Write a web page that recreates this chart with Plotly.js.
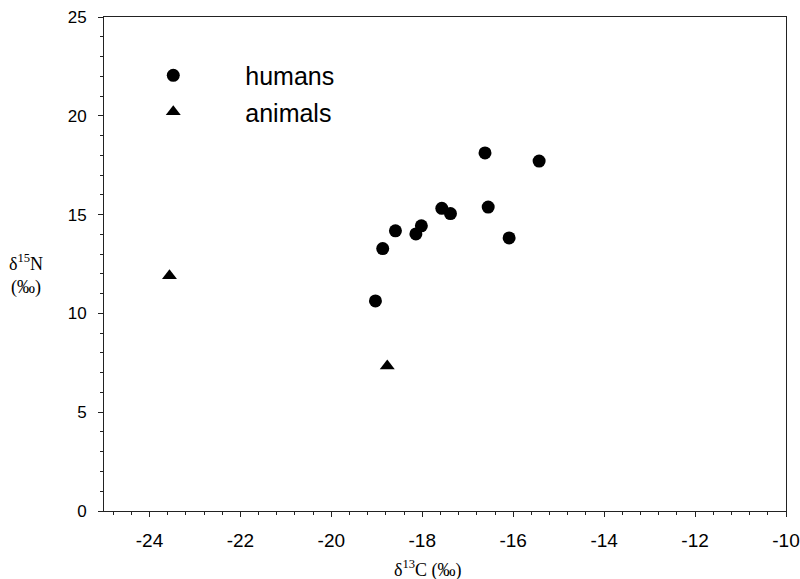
<!DOCTYPE html>
<html>
<head>
<meta charset="utf-8">
<script src="https://cdn.plot.ly/plotly-3.0.1.min.js"></script>
<style>html,body{margin:0;padding:0;background:#fff;}#chart{width:800px;height:579px;}</style>
</head>
<body>
<div id="chart"></div>
<script>
// Data
const humansC = [-19.03, -18.87, -18.59, -18.14, -18.02, -17.57, -17.38, -16.62, -16.55, -16.09, -15.43];
const humansN = [10.63, 13.28, 14.18, 14.02, 14.43, 15.32, 15.05, 18.12, 15.38, 13.82, 17.71];
const animalsC = [-23.56, -18.77];
const animalsN = [11.9, 7.34];
const xTickVals = [-24, -22, -20, -18, -16, -14, -12, -10];
const yTickVals = [0, 5, 10, 15, 20, 25];
const seriesNames = ['humans', 'animals'];
const xTitle = 'δ<sup>13</sup>C (‰)';
const yTitle = 'δ<sup>15</sup>N<br>(‰)';

const traces = [
  {x: humansC, y: humansN, name: seriesNames[0], legendgroup: 'g1', type: 'scatter', mode: 'markers',
   marker: {symbol: 'circle', size: 13, color: '#000'}},
  {x: animalsC, y: animalsN, name: seriesNames[1], legendgroup: 'g2', type: 'scatter', mode: 'markers',
   marker: {symbol: 'triangle-up', size: 13, color: '#000'}}
];

const axisCommon = {
  showgrid: false, zeroline: false, showline: true, linecolor: '#222', linewidth: 1,
  mirror: true, ticks: 'outside', tickcolor: '#222', ticklen: 5, tickwidth: 1,
  tickfont: {family: '"Liberation Sans Narrow", "Liberation Sans", Arial, sans-serif', size: 19, color: '#000'}
};

const layout = {
  width: 800, height: 579,
  margin: {l: 103.5, r: 14, t: 17, b: 68},
  paper_bgcolor: '#fff', plot_bgcolor: '#fff',
  showlegend: true,
  legend: {x: -0.004, xanchor: 'left', y: 0.928, yanchor: 'top', bgcolor: 'rgba(0,0,0,0)',
           traceorder: 'grouped', tracegroupgap: 1,
           itemwidth: 134, font: {family: '"Liberation Sans", Arial, sans-serif', size: 25, color: '#000'}},
  xaxis: Object.assign({}, axisCommon, {
    range: [-25, -10], tickmode: 'array', tickvals: xTickVals, ticktext: xTickVals.map(String),
    ticklabelstandoff: 7,
    minor: {dtick: 0.4, tick0: -24, ticks: 'outside', ticklen: 3, tickcolor: '#222'}
  }),
  yaxis: Object.assign({}, axisCommon, {
    range: [0, 25], tickmode: 'array', tickvals: yTickVals, ticktext: yTickVals.map(String),
    ticklabelstandoff: 8,
    tickfont: {family: '"Liberation Sans Narrow", "Liberation Sans", Arial, sans-serif', size: 17, color: '#000'},
    minor: {dtick: 1, tick0: 0, ticks: 'outside', ticklen: 3, tickcolor: '#222'}
  }),
  annotations: [
    {xref: 'paper', yref: 'paper', x: -0.115, y: 0.478, xanchor: 'center', yanchor: 'middle',
     showarrow: false, align: 'center', text: yTitle,
     font: {family: '"Liberation Serif", "Times New Roman", serif', size: 18, color: '#000'}},
    {xref: 'paper', yref: 'paper', x: 0.475, y: -0.118, xanchor: 'center', yanchor: 'middle',
     showarrow: false, align: 'center', text: xTitle,
     font: {family: '"Liberation Serif", "Times New Roman", serif', size: 18, color: '#000'}}
  ]
};

Plotly.newPlot('chart', traces, layout, {displayModeBar: false, staticPlot: true});
</script>
</body>
</html>
